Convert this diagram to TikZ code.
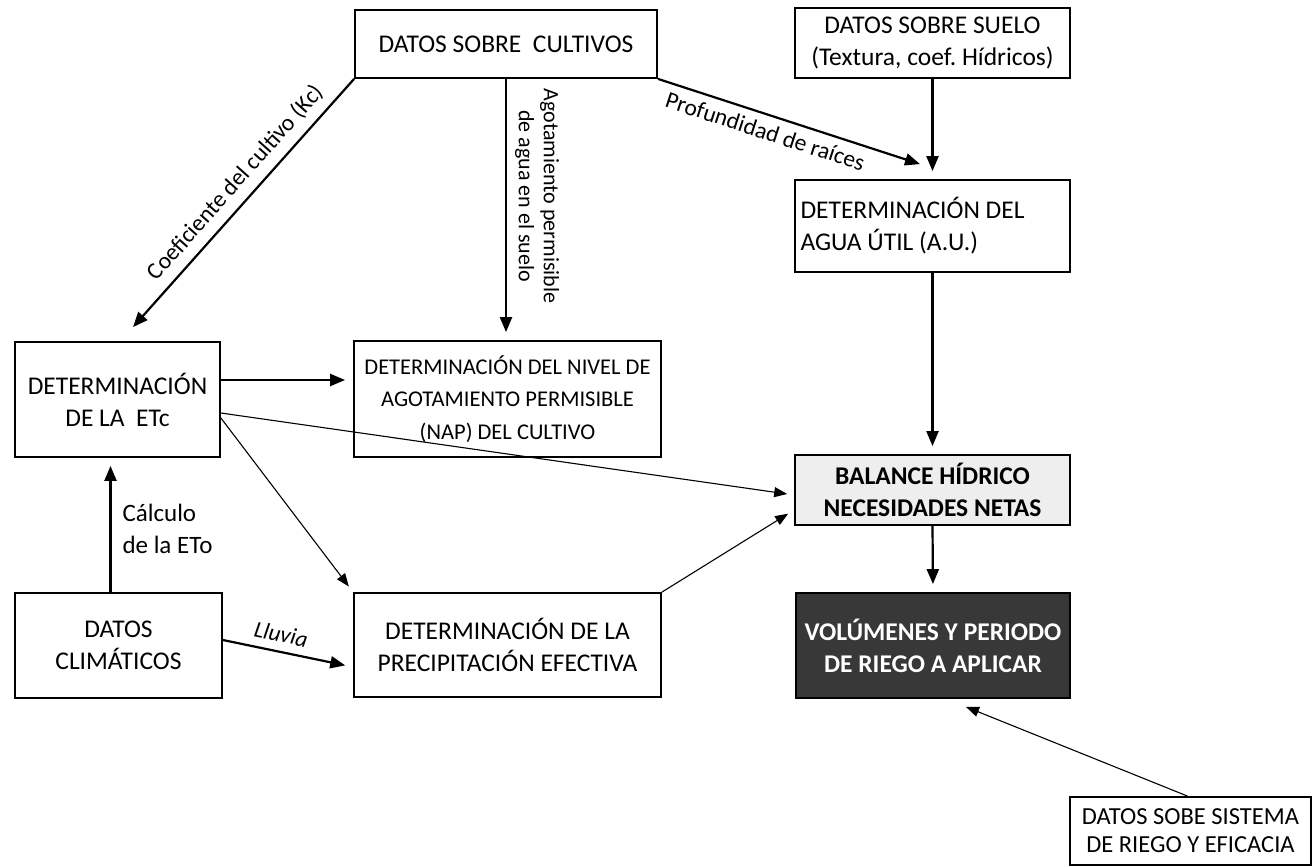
\documentclass[tikz,border=0pt]{standalone}
\usepackage{fontspec}
\setmainfont{Carlito}
\usetikzlibrary{arrows.meta}
\frenchspacing
\begin{document}
\begin{tikzpicture}[x=1pt,y=-1pt,
  box/.style={draw, line width=1.8pt, align=center, inner sep=3pt, font=\fontsize{25.5}{32}\selectfont},
  thickarrow/.style={line width=2.2pt, -{Triangle[length=15pt,width=12pt]}, shorten >=8pt},
  thinarrow/.style={line width=1.1pt, -{Triangle[length=13pt,width=10pt]}, shorten >=7pt},
  lbl/.style={font=\fontsize{23.5}{25}\selectfont}]
\useasboundingbox (0,0) rectangle (1312,867);
% boxes
\node[box, minimum width=302pt, minimum height=68pt] (cult) at (506,44) {DATOS SOBRE\ \ CULTIVOS};
\node[box, minimum width=275pt, minimum height=70pt] (suelo) at (932.5,43) {DATOS SOBRE SUELO\\(Textura, coef. Hídricos)};
\node[box, minimum width=275pt, minimum height=92pt, align=flush left, text width=264pt] (au) at (932.5,226) {DETERMINACIÓN DEL\\AGUA ÚTIL (A.U.)};
\node[box, minimum width=205pt, minimum height=115pt] (etc) at (117.5,399.5) {DETERMINACIÓN\\DE LA\ \ ETc};
\node[box, minimum width=307pt, minimum height=116pt, font=\fontsize{22.5}{32.5}\selectfont] (nap) at (507.5,399) {DETERMINACIÓN DEL NIVEL DE\\AGOTAMIENTO PERMISIBLE\\(NAP) DEL CULTIVO};
\node[box, minimum width=275pt, minimum height=70pt, fill=gray!13, font=\fontsize{25.5}{32}\selectfont\bfseries] (bal) at (932.5,490) {BALANCE HÍDRICO\\NECESIDADES NETAS};
\node[box, minimum width=207pt, minimum height=105pt] (clim) at (118.5,645.5) {DATOS\\CLIMÁTICOS};
\node[box, minimum width=307pt, minimum height=104pt] (prec) at (507.5,645) {DETERMINACIÓN DE LA\\PRECIPITACIÓN EFECTIVA};
\node[box, minimum width=274pt, minimum height=105pt, fill=black!78, text=white, font=\fontsize{25.5}{32}\selectfont\bfseries] (vol) at (933,645.5) {VOLÚMENES Y PERIODO\\DE RIEGO A APLICAR};
\node[box, minimum width=241pt, minimum height=68pt, inner sep=1pt, font=\fontsize{24.5}{28}\selectfont] (sist) at (1190.5,831) {DATOS SOBE SISTEMA\\DE RIEGO Y EFICACIA};
% connectors
\draw[thickarrow, shorten >=0pt] (cult.south west) -- ([xshift=15.5pt,yshift=14pt]etc.north)
  node[lbl, pos=0.47, sloped, above=5pt] {Coeficiente del cultivo (Kc)};
\draw[thickarrow] (cult.south) -- (cult.south |- nap.north);
\node[lbl, rotate=-90, align=center, font=\fontsize{22}{25}\selectfont] (agot) at (537,196) {Agotamiento permisible\\de agua en el suelo};
\draw[thickarrow, shorten >=0pt] (cult.south east) -- ([xshift=-12.5pt,yshift=15pt]au.north)
  node[lbl, pos=0.43, sloped, below=4pt] {Profundidad de raíces};
\draw[thickarrow] (suelo.south) -- (au.north);
\draw[thickarrow] (au.south) -- (bal.north);
\draw[thickarrow] (bal.south) -- (vol.north);
\coordinate (e1) at ([yshift=19.5pt]etc.east);
\draw[thickarrow] (e1) -- (e1 -| nap.west);
\draw[thinarrow] ([yshift=-13.5pt]etc.east) -- ([yshift=-5pt]bal.west);
\draw[thinarrow] ([yshift=-18.5pt]etc.east) -- (prec.north west);
\draw[thinarrow] (prec.north east) -- ([yshift=-20pt]bal.west);
\coordinate (c1) at ([xshift=-8pt]clim.north);
\draw[thickarrow] (c1) -- (c1 |- etc.south);
\node[lbl, anchor=west, align=left, font=\fontsize{25}{32}\selectfont] (calc) at (119,529) {Cálculo\\de la ETo};
\draw[thickarrow] ([yshift=5.5pt]clim.east) -- ([yshift=-22pt]prec.west)
  node[lbl, pos=0.42, sloped, above=5pt, font=\fontsize{23}{25}\selectfont\itshape] {Lluvia};
\draw[thinarrow, shorten >=0pt] ([xshift=-3pt]sist.north) -- ([xshift=33pt,yshift=-8pt]vol.south);
\end{tikzpicture}
\end{document}
